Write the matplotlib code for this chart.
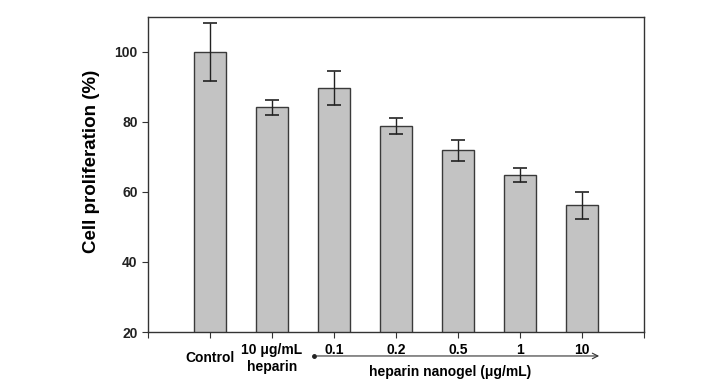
import matplotlib
matplotlib.use("Agg")
import matplotlib.pyplot as plt
import matplotlib.transforms as mtransforms

plt.rcParams['font.family'] = ['Liberation Sans', 'DejaVu Sans']

categories = ["Control", "10 μg/mL\nheparin", "0.1", "0.2", "0.5", "1", "10"]
values = [100.0, 84.2, 89.7, 78.8, 71.9, 64.7, 56.2]
errors = [8.3, 2.2, 4.8, 2.3, 3.0, 2.0, 3.9]
yticks = [20, 40, 60, 80, 100]
group_label = "heparin nanogel (μg/mL)"
ylabel = "Cell proliferation (%)"

fig = plt.figure(figsize=(7.21, 3.92), dpi=100)
ax = fig.add_axes([0.2053, 0.153, 0.688, 0.804])

x = list(range(1, len(values) + 1))
ax.bar(x, values, width=0.52, bottom=0, color="#c3c3c3", edgecolor="#3a3a3a",
       linewidth=1.0, zorder=2)
ax.errorbar(x, values, yerr=errors, fmt="none", ecolor="#222222", elinewidth=1.0,
            capsize=5, capthick=1.2, zorder=3)

ax.set_xlim(0, 8)
ax.set_ylim(20, 110)
ax.set_yticks(yticks)
ax.set_yticklabels([str(t) for t in yticks], fontsize=10, fontweight="bold")
ax.set_xticks(range(0, 9))
ax.set_xticklabels([""] * 9)
ax.tick_params(axis="both", direction="out", length=4, width=0.8, colors="#333333",
               labelcolor="#222222")
for s in ax.spines.values():
    s.set_color("#333333")
    s.set_linewidth(1.0)

ax.set_ylabel(ylabel, fontsize=13.5, fontweight="bold")
ax.yaxis.set_label_coords(-0.097, 0.54)

trans = mtransforms.blended_transform_factory(ax.transData, ax.transAxes)
for xi, lab in zip(x, categories):
    if lab == "Control":
        ax.text(xi, -0.083, lab, transform=trans, ha="center", va="center",
                fontsize=10, fontweight="bold")
    elif "\n" in lab:
        top, bottom = lab.split("\n")
        ax.text(xi, -0.057, top, transform=trans, ha="center", va="center",
                fontsize=10, fontweight="bold")
        ax.text(xi, -0.11, bottom, transform=trans, ha="center", va="center",
                fontsize=10, fontweight="bold")
    else:
        ax.text(xi, -0.057, lab, transform=trans, ha="center", va="center",
                fontsize=10, fontweight="bold")

ax.annotate("", xy=(7.32, -0.076), xytext=(2.68, -0.076), xycoords=trans,
            textcoords=trans,
            arrowprops=dict(arrowstyle="->", color="#333333", lw=0.8),
            annotation_clip=False)
ax.plot([2.68], [-0.076], marker="o", markersize=2.5, color="#222222",
        transform=trans, clip_on=False)
ax.text(4.87, -0.127, group_label, transform=trans, ha="center", va="center",
        fontsize=10, fontweight="bold")

fig.savefig("out.png", dpi=100)
